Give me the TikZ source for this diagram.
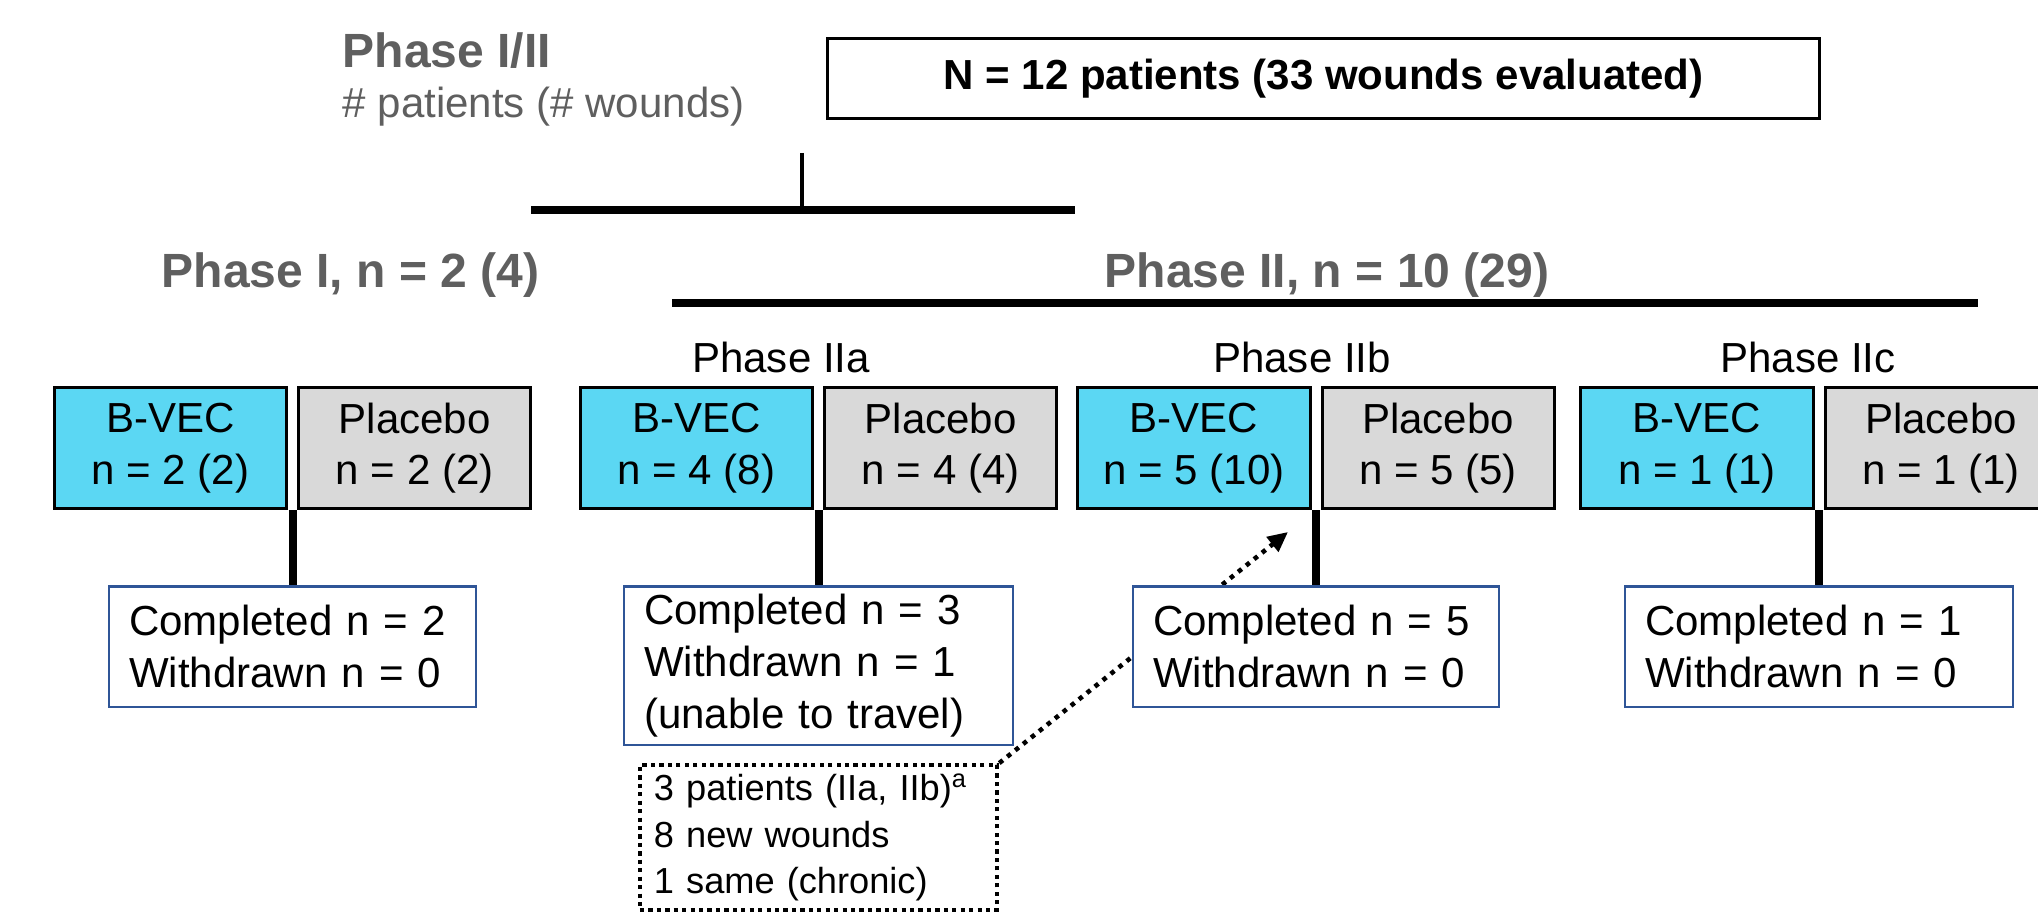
\documentclass[tikz,border=0pt]{standalone}
\usepackage{fontspec}
\setmainfont{Liberation Sans}
\usetikzlibrary{arrows.meta,positioning,calc,backgrounds}
\definecolor{vecblue}{HTML}{5BD7F3}
\definecolor{plcgray}{HTML}{D9D9D9}
\definecolor{doneblue}{HTML}{2F5597}
\definecolor{headgray}{HTML}{5F5F5F}

\begin{document}
\begin{tikzpicture}[
  x=0.01cm,y=-0.01cm,
  font=\fontsize{11.95}{14.7}\selectfont,
  arm/.style={draw=black,line width=0.85pt,fill=#1,align=center,minimum width=2.32cm,minimum height=1.21cm,inner sep=0pt},
  head/.style={font=\fontsize{13.66}{16}\selectfont\bfseries,text=headgray,inner sep=0pt},
  subhead/.style={inner sep=0pt},
  done/.style={draw=doneblue,line width=0.7pt,fill=white,align=left,text width=#1,inner xsep=0.2cm,inner ysep=0.08cm,minimum height=1.205cm},
  extra/.style={draw=black,line width=1.2pt,dash pattern=on 1.2pt off 1.2pt,align=left,text width=3.29cm,inner xsep=0.14cm,inner ysep=0.09cm,minimum height=1.43cm,font=\fontsize{10.3}{13.2}\selectfont},
  stem/.style={line width=2.3pt},
  bar/.style={line width=2pt},
  dotarrow/.style={-{Triangle[length=5.7pt,width=5.2pt]},line width=1.3pt,dash pattern=on 1.3pt off 1.6pt}
]
\path[use as bounding box] (0,0) rectangle (2038,913);
\clip (0,0) rectangle (2038,913);

% headings
\node[head,anchor=base west] (phaseall) at (342,68) {Phase I/II};
\node[subhead,text=headgray,anchor=base west] (legend) at (342,118) {\# patients (\# wounds)};
\node[draw,line width=0.8pt,minimum width=9.92cm,minimum height=0.8cm,font=\fontsize{11.95}{14}\selectfont\bfseries] (total) at (1323.5,78.5) {N = 12 patients (33 wounds evaluated)};
\node[head,anchor=base west] (phaseI) at (161,288) {Phase I, n = 2 (4)};
\node[head,anchor=base] (phaseII) at (1327,288) {Phase II, n = 10 (29)};
\node[subhead,anchor=base] (phaseIIa) at (781,373) {Phase IIa};
\node[subhead,anchor=base] (phaseIIb) at (1302,373) {Phase IIb};
\node[subhead,anchor=base] (phaseIIc) at (1808,373) {Phase IIc};

% split bars
\coordinate (splittop) at (802,153);
\coordinate (splitL) at (531,210);
\coordinate (splitR) at (1075,210);
\coordinate (phaseIIL) at (672,303);
\coordinate (phaseIIR) at (1978,303);
\draw[line width=1.4pt] (splittop) -- (splittop |- splitL);
\draw[bar] (splitL) -- (splitR);
\draw[bar] (phaseIIL) -- (phaseIIR);

% arms
\node[arm=vecblue] (bvecI) at (170.5,448) {B-VEC\\n = 2 (2)};
\node[arm=plcgray,right=0.09cm of bvecI] (plcI) {Placebo\\n = 2 (2)};
\node[arm=vecblue] (bvecIIa) at (696.5,448) {B-VEC\\n = 4 (8)};
\node[arm=plcgray,right=0.09cm of bvecIIa] (plcIIa) {Placebo\\n = 4 (4)};
\node[arm=vecblue] (bvecIIb) at (1194,448) {B-VEC\\n = 5 (10)};
\node[arm=plcgray,right=0.09cm of bvecIIb] (plcIIb) {Placebo\\n = 5 (5)};
\node[arm=vecblue] (bvecIIc) at (1697,448) {B-VEC\\n = 1 (1)};
\node[arm=plcgray,right=0.09cm of bvecIIc] (plcIIc) {Placebo\\n = 1 (1)};

\coordinate (gapI) at ($(bvecI.south east)!0.5!(plcI.south west)$);
\coordinate (gapIIa) at ($(bvecIIa.south east)!0.5!(plcIIa.south west)$);
\coordinate (gapIIb) at ($(bvecIIb.south east)!0.5!(plcIIb.south west)$);
\coordinate (gapIIc) at ($(bvecIIc.south east)!0.5!(plcIIc.south west)$);

% outcomes
\node[done=3.265cm,below=0.75cm of gapI] (doneI) {Completed n = 2\\Withdrawn n = 0};
\node[done=3.485cm,minimum height=1.575cm,below=0.75cm of gapIIa] (doneIIa) {Completed n = 3\\Withdrawn n = 1\\(unable to travel)};
\node[done=3.255cm,below=0.75cm of gapIIb] (doneIIb) {Completed n = 5\\Withdrawn n = 0};
\node[done=3.475cm,below=0.75cm of gapIIc] (doneIIc) {Completed n = 1\\Withdrawn n = 0};
\node[extra,below=0.17cm of doneIIa] (rollover) {3 patients (IIa, IIb)\textsuperscript{a}\\8 new wounds\\1 same (chronic)};

\draw[stem] (gapI) -- (doneI.north);
\draw[stem] (gapIIa) -- (doneIIa.north);
\draw[stem] (gapIIb) -- (doneIIb.north);
\draw[stem] (gapIIc) -- (doneIIc.north);

\coordinate (rolltip) at (1288,532);
\begin{scope}[on background layer]
  \draw[dotarrow] (rollover.north east) -- (rolltip);
\end{scope}
\end{tikzpicture}
\end{document}
